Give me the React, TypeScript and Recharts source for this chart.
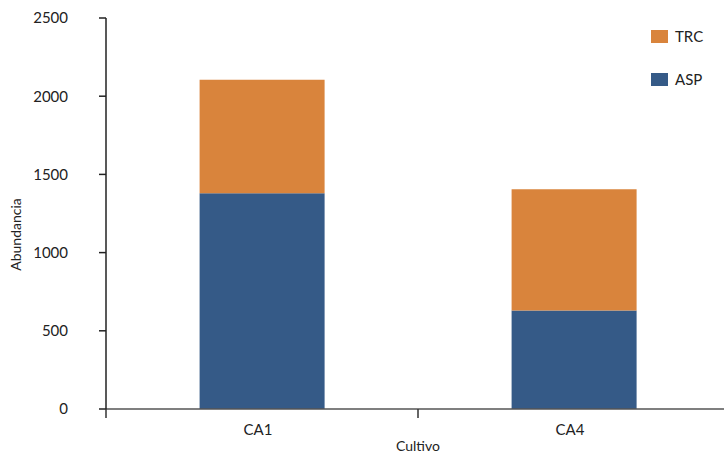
import { BarChart, Bar, XAxis, YAxis, Label } from "recharts"

const cultivos = ["CA1", "CA4"]
const asp = [1380, 630]
const trc = [725, 775]
const yTicks = [0, 500, 1000, 1500, 2000, 2500]

const data = cultivos.map((c, i) => ({ cultivo: c, ASP: asp[i], TRC: trc[i] }))

const FONT = "Lato, 'Open Sans', sans-serif"
const ORANGE = "#d9843c"
const BLUE = "#355a87"

const legendItems = [
  { name: "TRC", color: ORANGE },
  { name: "ASP", color: BLUE },
]

function CultivoTick({ x, y, payload }: any) {
  const half = payload?.offset ?? 156
  return (
    <g>
      <line x1={x - half} x2={x - half} y1={y} y2={y + 9} stroke="#333" strokeWidth={1.5} />
      <text x={x - 4} y={y + 26} textAnchor="middle" fontSize={15} fill="#222" fontFamily={FONT}>
        {payload.value}
      </text>
    </g>
  )
}

function LegendBox() {
  return (
    <div style={{ position: "absolute", top: 26, left: 651, fontFamily: FONT, fontSize: 15, color: "#222" }}>
      {legendItems.map((it) => (
        <div key={it.name} style={{ display: "flex", alignItems: "center", height: 20, marginBottom: 23 }}>
          <span style={{ width: 17, height: 13, background: it.color, display: "inline-block", marginRight: 7 }} />
          <span>{it.name}</span>
        </div>
      ))}
    </div>
  )
}

function YLabel({ viewBox }: any) {
  const cy = viewBox.y + viewBox.height / 2 + 21
  return (
    <text x={0} y={0} transform={`translate(21, ${cy}) rotate(-90)`} textAnchor="middle" fontSize={14} fill="#222" fontFamily={FONT}>
      Abundancia
    </text>
  )
}

export default function App() {
  return (
    <div style={{ position: "absolute", left: 0, top: 0, width: 724, height: 454, overflow: "hidden", background: "#fff" }}>
      <BarChart
        width={740}
        height={454}
        data={data}
        margin={{ top: 18, right: 10, left: 0, bottom: 0 }}
        barCategoryGap="30%"
      >
        <XAxis
          dataKey="cultivo"
          height={45}
          axisLine={{ stroke: "#555", strokeWidth: 1.5 }}
          tickLine={false}
          tickSize={0}
          tickMargin={0}
          tick={<CultivoTick />}
          interval={0}
        >
          <Label value="Cultivo" position="insideBottom" offset={3} fontSize={14} fill="#222" fontFamily={FONT} />
        </XAxis>
        <YAxis
          width={106}
          domain={[0, 2500]}
          ticks={yTicks}
          interval={0}
          axisLine={{ stroke: "#222", strokeWidth: 1.5 }}
          tickLine={{ stroke: "#222", strokeWidth: 1.5 }}
          tickSize={7}
          tickMargin={31}
          tick={{ fontSize: 15, fill: "#222", fontFamily: FONT }}
        >
          <Label content={<YLabel />} />
        </YAxis>
        <Bar dataKey="ASP" stackId="a" fill={BLUE} isAnimationActive={false} />
        <Bar dataKey="TRC" stackId="a" fill={ORANGE} isAnimationActive={false} />
      </BarChart>
      <LegendBox />
    </div>
  )
}
